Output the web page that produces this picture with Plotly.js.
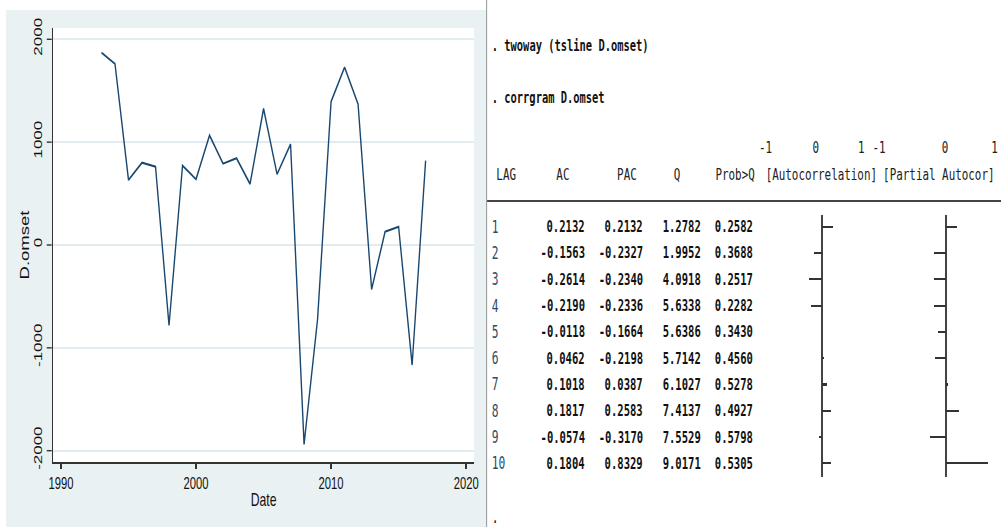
<!DOCTYPE html>
<html>
<head>
<meta charset="utf-8">
<script src="https://cdn.plot.ly/plotly-3.0.1.min.js"></script>
<style>
html, body { margin: 0; padding: 0; overflow: hidden; width: 1001px; height: 527px; background: #ffffff; }
#plot { transform-origin: 0 0; }
</style>
</head>
<body>
<div id="plot"></div>
<script>
// ---- time series (left panel) ----
const years = [1993, 1994, 1995, 1996, 1997, 1998, 1999, 2000, 2001, 2002, 2003, 2004, 2005,
               2006, 2007, 2008, 2009, 2010, 2011, 2012, 2013, 2014, 2015, 2016, 2017];
const dOmset = [1871, 1761, 632, 801, 762, -781, 772, 639, 1067, 791, 843, 593, 1326,
                688, 980, -1939, -720, 1394, 1728, 1368, -431, 129, 178, -1167, 820];
const xTicks = [1990, 2000, 2010, 2020];
const yTicks = [-2000, -1000, 0, 1000, 2000];

// ---- corrgram (right panel) ----
const lags = [1, 2, 3, 4, 5, 6, 7, 8, 9, 10];
const ac   = [0.2132, -0.1563, -0.2614, -0.2190, -0.0118, 0.0462, 0.1018, 0.1817, -0.0574, 0.1804];
const pac  = [0.2132, -0.2327, -0.2340, -0.2336, -0.1664, -0.2198, 0.0387, 0.2583, -0.3170, 0.8329];
const qStat = [1.2782, 1.9952, 4.0918, 5.6338, 5.6386, 5.7142, 6.1027, 7.4137, 7.5529, 9.0171];
const probQ = [0.2582, 0.3688, 0.2517, 0.2282, 0.3430, 0.4560, 0.5278, 0.4927, 0.5798, 0.5305];
const commands = [". twoway (tsline D.omset)", ". corrgram D.omset"];
const headers = ["LAG", "AC", "PAC", "Q", "Prob>Q", "[Autocorrelation]", "[Partial Autocor]"];
const barTickLabels = ["-1", "0", "1", "-1", "0", "1"];

// ---- geometry (reference pixels; page squeezed horizontally like the reference) ----
const S = 0.66;
const W = 1001 / S, H = 527;
const px = x => x / 1001;
const py = y => 1 - y / 527;
document.getElementById('plot').style.transform = 'scaleX(' + S + ')';

const sansFont = 'Liberation Sans, Arial, sans-serif';
const monoFont = 'DejaVu Sans Mono, Liberation Mono, monospace';
const thinMono = 'Liberation Mono, Courier New, monospace';

const traces = [
  { x: years, y: dOmset, type: 'scatter', mode: 'lines', xaxis: 'x', yaxis: 'y',
    line: { color: '#1a476f', width: 2.1 }, hoverinfo: 'skip' },
  { x: ac, y: lags, type: 'bar', orientation: 'h', xaxis: 'x2', yaxis: 'y2', width: 0.08,
    marker: { color: '#333333' }, hoverinfo: 'skip' },
  { x: pac, y: lags, type: 'bar', orientation: 'h', xaxis: 'x3', yaxis: 'y2', width: 0.08,
    marker: { color: '#333333' }, hoverinfo: 'skip' }
];

const annotations = [];
function note(text, x, y, xanchor, opts) {
  opts = opts || {};
  annotations.push({
    text: text, x: x, y: y, xref: 'paper', yref: opts.yref || 'paper',
    xanchor: xanchor, yanchor: 'middle', showarrow: false,
    font: { family: opts.family || monoFont, size: opts.size || 16, color: opts.color || '#111111', weight: opts.weight || 'normal' },
    yshift: opts.yshift || 0
  });
}
// commands
note(commands[0], px(490), py(45), 'left', { weight: 'bold', size: 15.8 });
note(commands[1], px(490), py(97), 'left', { weight: 'bold', size: 15.8 });
// bar scale labels
const tickX = [765.5, 815.5, 861, 879, 945, 994.5];
barTickLabels.forEach((t, i) => note(t, px(tickX[i]), py(148), 'center', { size: 16.5, color: '#222' }));
// header
const hdr = { size: 16.5, color: '#222' };
note(headers[0], px(495), py(175), 'left', hdr);
note(headers[1], px(563), py(175), 'center', hdr);
note(headers[2], px(627), py(175), 'center', hdr);
note(headers[3], px(677), py(175), 'center', hdr);
note(headers[4], px(756), py(175), 'right', hdr);
note(headers[5], px(764), py(175), 'left', hdr);
note(headers[6], px(996), py(175), 'right', hdr);
// rows
lags.forEach((lag, i) => {
  note(String(lag), px(490), lag, 'left', { yref: 'y2', size: 17, color: '#2e4a66' });
  note(ac[i].toFixed(4), px(586), lag, 'right', { yref: 'y2', weight: 'bold' });
  note(pac[i].toFixed(4), px(644), lag, 'right', { yref: 'y2', weight: 'bold' });
  note(qStat[i].toFixed(4), px(702), lag, 'right', { yref: 'y2', weight: 'bold' });
  note(probQ[i].toFixed(4), px(754), lag, 'right', { yref: 'y2', weight: 'bold' });
});
note('.', px(490), py(517), 'left', { size: 17 });

const shapes = [
  // Stata graph background
  { type: 'rect', xref: 'paper', yref: 'paper', x0: px(6), x1: px(486), y0: 0, y1: py(10),
    fillcolor: '#eaf1f3', line: { width: 0 }, layer: 'below' },
  // plot region (white)
  { type: 'rect', xref: 'paper', yref: 'paper', x0: px(53), x1: px(474), y0: py(462), y1: py(28),
    fillcolor: '#ffffff', line: { width: 0 }, layer: 'below' },
  // results window border
  { type: 'line', xref: 'paper', yref: 'paper', x0: px(486.5), x1: px(486.5), y0: 0, y1: 1,
    line: { color: '#9a9a9a', width: 1.6 } },
  // rule under header
  { type: 'line', xref: 'paper', yref: 'paper', x0: px(487), x1: 1, y0: py(201), y1: py(201),
    line: { color: '#444444', width: 1.8 } }
];

const layout = {
  width: W, height: H,
  margin: { l: 0, r: 0, t: 0, b: 0 },
  paper_bgcolor: 'rgba(0,0,0,0)',
  plot_bgcolor: 'rgba(0,0,0,0)',
  showlegend: false,
  bargap: 0,
  xaxis: {
    domain: [px(53), px(474)], range: [1989.41, 2020.59], anchor: 'y',
    tickvals: xTicks, ticktext: xTicks.map(String),
    ticks: 'outside', ticklen: 5, tickwidth: 2, tickcolor: '#333333',
    showline: true, linecolor: '#333333', linewidth: 1.6,
    showgrid: false, zeroline: false, ticklabelstandoff: 0,
    tickfont: { family: sansFont, size: 17, color: '#111111' },
    title: { text: 'Date', font: { family: sansFont, size: 18.5, color: '#111111' }, standoff: 1 }
  },
  yaxis: {
    domain: [py(462), py(28)], range: [-2110, 2110], anchor: 'x',
    tickvals: yTicks, ticktext: yTicks.map(String), tickangle: -90,
    ticks: 'outside', ticklen: 7.5, tickwidth: 1.4, tickcolor: '#333333',
    showline: true, linecolor: '#333333', linewidth: 2,
    showgrid: true, gridcolor: '#e2ecf0', gridwidth: 1.8, zeroline: false,
    tickfont: { family: sansFont, size: 17, color: '#111111' },
    title: { text: 'D.omset', font: { family: sansFont, size: 18.5, color: '#111111' }, standoff: 0 }
  },
  xaxis2: {
    domain: [px(772), px(872)], range: [-1, 1], anchor: 'y2',
    showticklabels: false, ticks: '', showgrid: false, showline: false,
    zeroline: true, zerolinecolor: '#444444', zerolinewidth: 2.3, fixedrange: true
  },
  xaxis3: {
    domain: [px(895.7), px(995.7)], range: [-1, 1], anchor: 'y2',
    showticklabels: false, ticks: '', showgrid: false, showline: false,
    zeroline: true, zerolinecolor: '#444444', zerolinewidth: 2.3, fixedrange: true
  },
  yaxis2: {
    domain: [py(477), py(215)], range: [10.52, 0.555], anchor: 'x2',
    showticklabels: false, ticks: '', showgrid: false, showline: false, zeroline: false, fixedrange: true
  },
  shapes: shapes,
  annotations: annotations
};

Plotly.newPlot('plot', traces, layout, { displayModeBar: false, staticPlot: true });
</script>
</body>
</html>
